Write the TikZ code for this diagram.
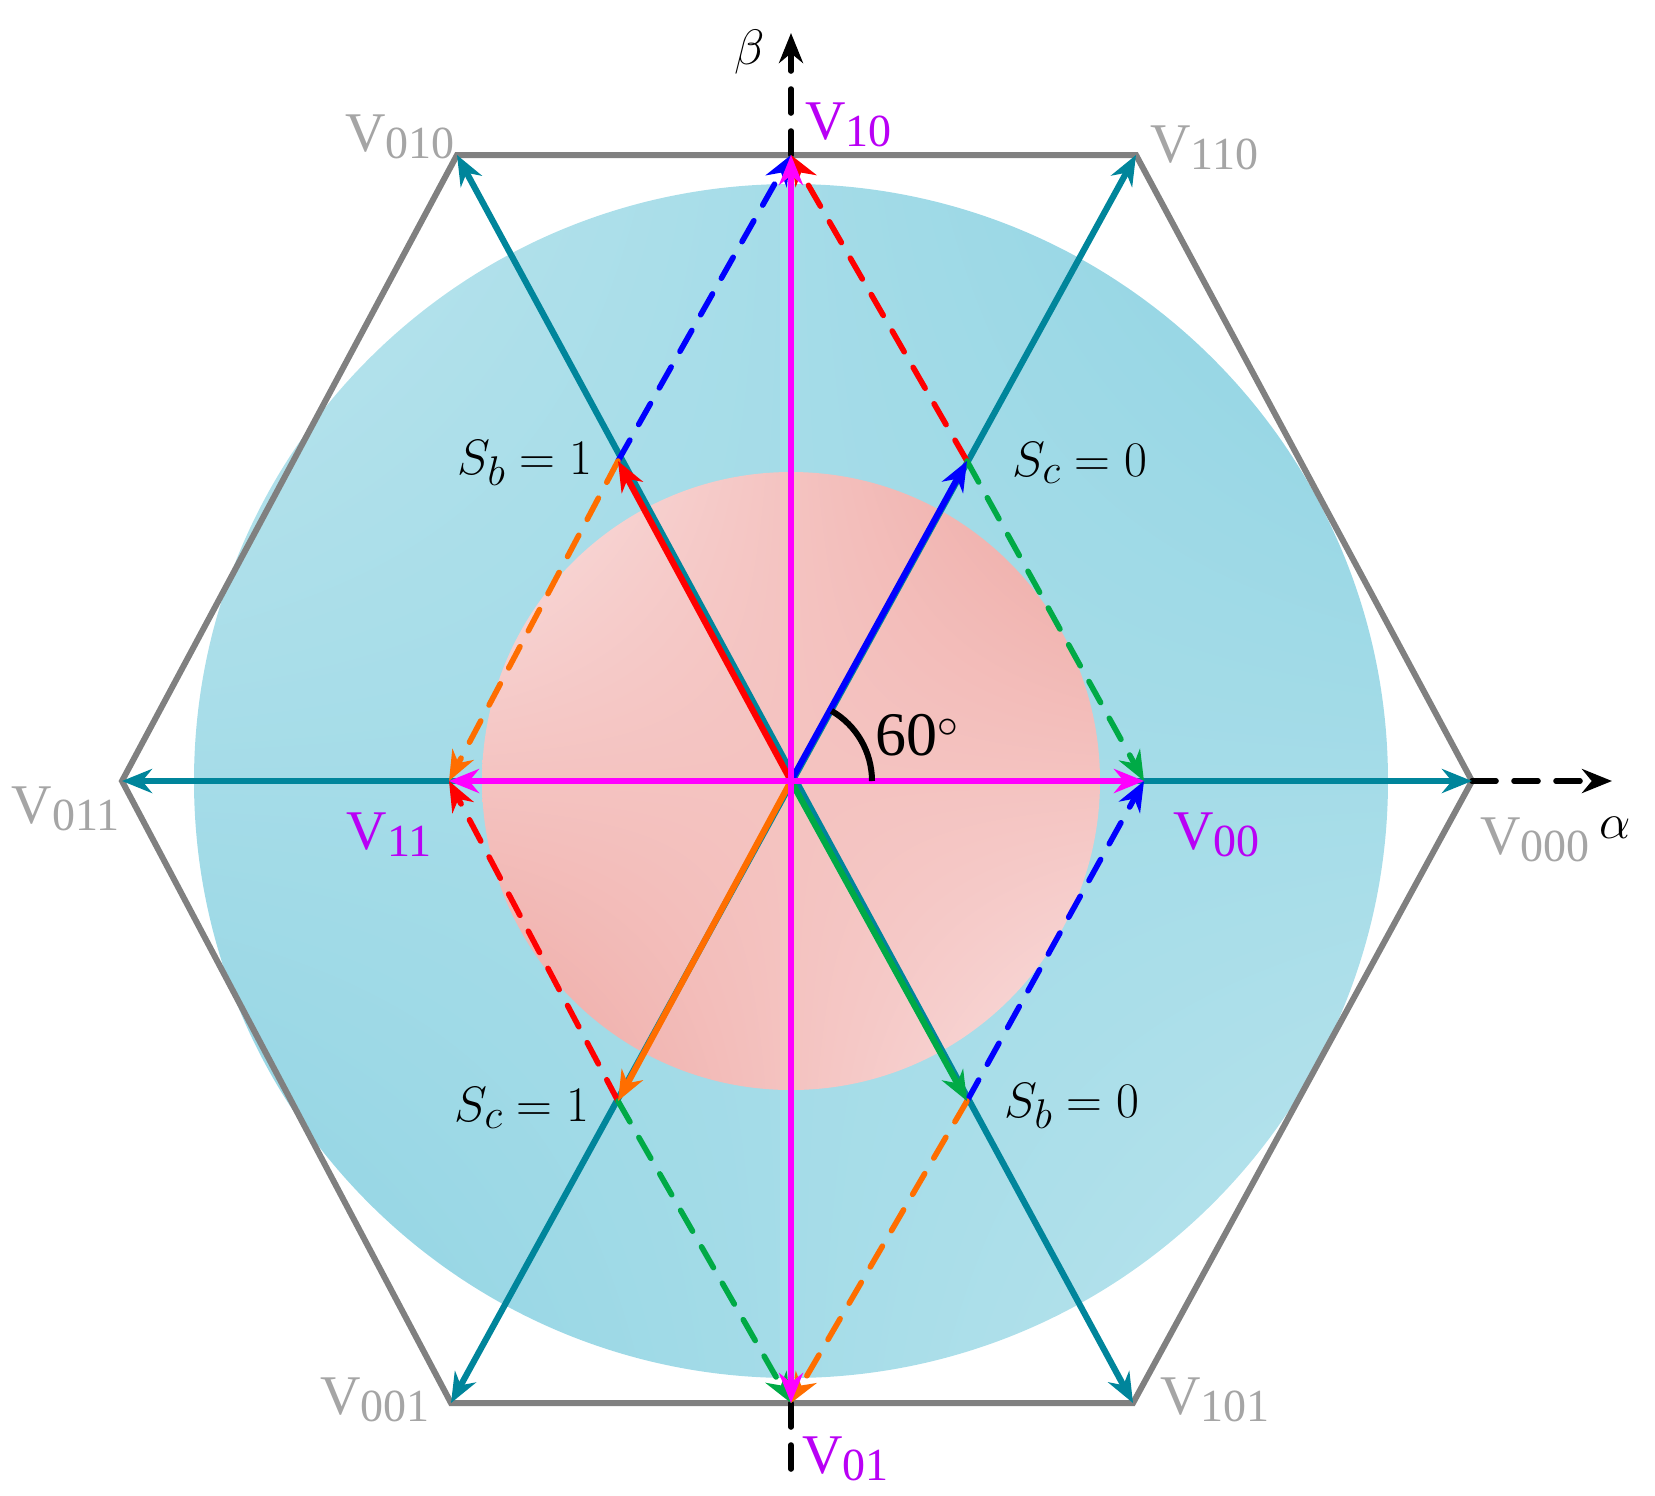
\documentclass[tikz,border=0pt]{standalone}
\usepackage{fontspec}
\setmainfont{Liberation Serif}
\usetikzlibrary{arrows.meta,shadings}
\definecolor{hexg}{RGB}{128,128,128}
\definecolor{labg}{RGB}{165,165,165}
\definecolor{teal1}{RGB}{0,133,155}
\definecolor{mag}{RGB}{255,0,255}
\definecolor{vio}{RGB}{185,0,245}
\definecolor{grn}{RGB}{0,170,70}
\definecolor{org}{RGB}{255,110,0}
\definecolor{cyl}{RGB}{190,230,238}
\definecolor{cyd}{RGB}{140,210,226}
\definecolor{pkl}{RGB}{250,225,225}
\definecolor{pkd}{RGB}{238,165,160}
\tikzset{
  tip/.style={-{Stealth[length=15pt,width=12pt]}},
  tips/.style={{Stealth[length=15pt,width=12pt]}-{Stealth[length=15pt,width=12pt]}},
  vec/.style={line width=3.1pt},
  dsh/.style={line width=2.8pt,dash pattern=on 12pt off 9pt,line cap=round},
  lab/.style={font=\fontsize{28}{30}\selectfont,inner sep=0pt},
  math/.style={font=\fontsize{31}{33}\selectfont,inner sep=0pt}
}
\newcommand{\Vl}[1]{V\raisebox{-0.12em}{\fontsize{23}{23}\selectfont #1}}
\begin{document}
\begin{tikzpicture}[x=0.5pt,y=-0.5pt]
\useasboundingbox (0,0) rectangle (1655,1495);
\coordinate (O) at (791,781);
\coordinate (H0) at (1472,781);
\coordinate (H1) at (1136,155);
\coordinate (H2) at (457,155);
\coordinate (H3) at (122,781);
\coordinate (H4) at (451,1403);
\coordinate (H5) at (1133,1403);
\coordinate (T) at (791,155);
\coordinate (B) at (791,1403);
\coordinate (L) at (449,781);
\coordinate (R) at (1144,781);
\coordinate (Pb1) at (618,461);
\coordinate (Pc0) at (967,461);
\coordinate (Pc1) at (618,1101);
\coordinate (Pb0) at (967,1101);
\coordinate (AX) at (1612,781);
\coordinate (AY) at (791,33);
\coordinate (AB) at (791,1475);
% disks
\shade[upper left=cyl,upper right=cyd,lower left=cyd,lower right=cyl] (O) circle (597);
\shade[upper left=pkl,upper right=pkd,lower left=pkd,lower right=pkl] (O) circle (309);
% hexagon
\draw[hexg,line width=3pt,line join=miter] (H0)--(H1)--(H2)--(H3)--(H4)--(H5)--cycle;
% axes
\draw[dsh,black,tip] (H0)--(AX);
\draw[dsh,black,tip] (T)--(AY);
\draw[dsh,black] (B)--(AB);
% teal
\draw[vec,teal1,tips] (H3)--(H0);
\draw[vec,teal1,tips] (H2)--(H5);
\draw[vec,teal1,tips] (H4)--(H1);
% dashed
\draw[dsh,blue,tip] (Pb1)--(T);
\draw[dsh,red,tip] (Pc0)--(T);
\draw[dsh,grn,tip] (Pc0)--(R);
\draw[dsh,blue,tip] (Pb0)--(R);
\draw[dsh,org,tip] (Pb1)--(L);
\draw[dsh,red,tip] (Pc1)--(L);
\draw[dsh,grn,tip] (Pc1)--(B);
\draw[dsh,org,tip] (Pb0)--(B);
% colored vectors
\draw[vec,red,tip] (O)--(Pb1);
\draw[vec,blue,tip] (O)--(Pc0);
\draw[vec,org,tip] (O)--(Pc1);
\draw[vec,grn,tip] (O)--(Pb0);
% magenta
\draw[vec,mag,tips] (L)--(R);
\draw[vec,mag,tips] (B)--(T);
% angle
\draw[line width=3pt] (872,781) arc[start angle=0,end angle=-60,radius=81];
\node[math,anchor=west] (ang) at (875,735) {60$^\circ$};
% labels
\node[lab,labg,anchor=east] (l010) at (455,137) {\Vl{010}};
\node[lab,labg,anchor=west] (l110) at (1150,148) {\Vl{110}};
\node[lab,labg,anchor=east] (l011) at (120,809) {\Vl{011}};
\node[lab,labg,anchor=west] (l000) at (1480,840) {\Vl{000}};
\node[lab,labg,anchor=east] (l001) at (430,1400) {\Vl{001}};
\node[lab,labg,anchor=west] (l101) at (1160,1400) {\Vl{101}};
\node[lab,vio,anchor=west] (l10) at (805,125) {\Vl{10}};
\node[lab,vio,anchor=east] (l11) at (432,835) {\Vl{11}};
\node[lab,vio,anchor=west] (l00) at (1173,835) {\Vl{00}};
\node[lab,vio,anchor=west] (l01) at (802,1459) {\Vl{01}};
\node[math] (alpha) at (1615,828) {$\alpha$};
\node[math] (beta) at (750,52) {$\beta$};
\node[math] (sb1) at (525,463) {$S_b=1$};
\node[math] (sc0) at (1080,463) {$S_c=0$};
\node[math] (sc1) at (522,1108) {$S_c=1$};
\node[math] (sb0) at (1072,1106) {$S_b=0$};
\end{tikzpicture}
\end{document}
